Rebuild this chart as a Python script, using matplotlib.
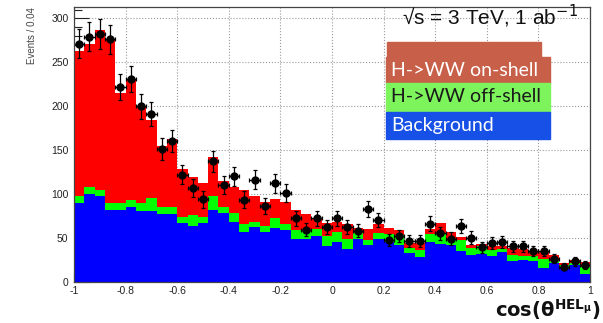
import numpy as np
import matplotlib.pyplot as plt
from matplotlib.patches import Rectangle
from matplotlib.ticker import MultipleLocator, FuncFormatter

# cos(theta_HEL_mu) distribution, 50 bins of 0.04
edges = np.linspace(-1, 1, 51)

background = [90, 100, 97, 82, 82, 85, 80, 80, 77, 77,
              67, 63, 67, 82, 78, 68, 57, 62, 57, 61,
              59, 48, 49, 52, 41, 45, 37, 48, 42, 48,
              45, 42, 32, 28, 45, 43, 42, 35, 30, 31,
              29, 34, 23, 24, 23, 15, 21, 15, 19, 9]
offshell = [8, 8, 7, 7, 7, 8, 9, 15, 8, 8,
            6, 13, 7, 16, 7, 10, 9, 6, 6, 11,
            7, 11, 9, 8, 11, 11, 12, 7, 5, 7,
            9, 11, 6, 8, 9, 12, 6, 12, 8, 9,
            7, 3, 7, 5, 6, 11, 2, 4, 2, 8]
onshell = [165, 163, 183, 186, 126, 138, 110, 89, 69, 78,
           55, 43, 38, 44, 30, 30, 38, 30, 28, 22,
           25, 22, 19, 12, 15, 12, 16, 6, 13, 10,
           7, 6, 6, 8, 6, 12, 9, 4, 4, 3,
           5, 4, 8, 8, 5, 9, 7, 2, 3, 5]
data = [271, 279, 282, 276, 222, 231, 200, 191, 151, 160,
        122, 107, 94, 137, 110, 120, 93, 116, 86, 112,
        101, 72, 59, 72, 62, 72, 62, 58, 83, 70,
        47, 52, 46, 46, 66, 55, 49, 63, 50, 39,
        44, 45, 40, 40, 35, 35, 26, 17, 23, 19]

bg = np.array(background, dtype=float)
off_top = bg + np.array(offshell)
tot = off_top + np.array(onshell)
d = np.array(data, dtype=float)
centers = 0.5 * (edges[1:] + edges[:-1])

plt.rcParams['font.family'] = ['Liberation Sans', 'DejaVu Sans']
fig = plt.figure(figsize=(6.03, 3.23), dpi=100)
ax = fig.add_axes([74/603, 1 - 281.5/323, 516/603, 274.5/323])

ax.stairs(tot, edges, baseline=off_top, fill=True, color='#ff0000', zorder=2)
ax.stairs(off_top, edges, baseline=bg, fill=True, color='#00ff00', zorder=2)
ax.stairs(bg, edges, baseline=0, fill=True, color='#0000ff', zorder=2)

ax.errorbar(centers, d, yerr=np.sqrt(d), xerr=0.02, fmt='o', color='black',
            ms=5, elinewidth=0.9, capsize=1.5, capthick=0.9, zorder=4)

ax.set_xlim(-1, 1)
ax.set_ylim(0, 313)
ax.xaxis.set_major_locator(MultipleLocator(0.2))
ax.xaxis.set_minor_locator(MultipleLocator(0.04))
ax.yaxis.set_major_locator(MultipleLocator(50))
ax.yaxis.set_minor_locator(MultipleLocator(10))
ax.xaxis.set_major_formatter(FuncFormatter(lambda v, p: '%g' % (round(v, 6) + 0.0)))
ax.tick_params(which='both', direction='in', labelsize=7.5, colors='#222222')
ax.tick_params(axis='y', which='major', length=11, width=0.8, pad=4)
ax.tick_params(axis='y', which='minor', length=5.5, width=0.8)
ax.tick_params(axis='x', which='major', length=6, width=0.8, pad=3)
ax.tick_params(axis='x', which='minor', length=3, width=0.8)
ax.grid(True, which='major', linestyle=':', color='#999999', linewidth=0.8, zorder=1)
ax.set_axisbelow(True)
for s in ax.spines.values():
    s.set_color('#444444')
    s.set_linewidth(0.9)
    s.set_zorder(5)

ax.set_ylabel('Events / 0.04', fontsize=7, color='#444444', loc='top', labelpad=10)

fig.text(402/603, 1 - 3/323, '\u221as = 3 TeV, 1 ab$^{-1}$', fontsize=15,
         ha='left', va='top', color='#111111')

# legend panel
W, H = 603, 323
def box(x0, y0, x1, y1, c):
    fig.patches.append(Rectangle((x0/W, 1 - y1/H), (x1 - x0)/W, (y1 - y0)/H,
                                 transform=fig.transFigure, color=c, zorder=6))
box(387, 42, 541, 57, '#c85f48')
box(386, 57, 550, 83, '#c85f48')
box(386, 83, 550, 111.5, '#7df45b')
box(386, 111.5, 550, 139, '#1650e6')
lf = dict(fontsize=14, family=['Lato', 'DejaVu Sans'], ha='left', va='center', zorder=7)
fig.text(391/W, 1 - 70/H, 'H->WW on-shell', color='white', **lf)
fig.text(391/W, 1 - 97/H, 'H->WW off-shell', color='#1a1a1a', **lf)
fig.text(391/W, 1 - 125/H, 'Background', color='white', **lf)

fig.text(601/W, 1 - 322/H, r'$\mathbf{cos(\theta^{HEL_{\mu}})}$', fontsize=14,
         ha='right', va='bottom', color='#111111')

fig.savefig('out.png', dpi=100)
